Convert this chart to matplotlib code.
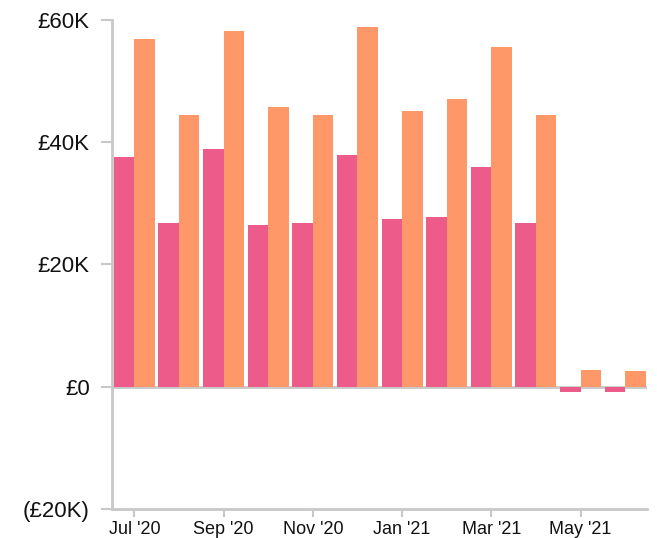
import numpy as np
import matplotlib
matplotlib.use("Agg")
import matplotlib.pyplot as plt
from matplotlib.ticker import FuncFormatter

plt.rcParams['font.family'] = ['Liberation Sans', 'DejaVu Sans']

# Data (values in £K)
MONTHS = ["Jul '20", "Aug '20", "Sep '20", "Oct '20", "Nov '20", "Dec '20",
          "Jan '21", "Feb '21", "Mar '21", "Apr '21", "May '21", "Jun '21"]
series_a = [37.5, 26.7, 38.9, 26.4, 26.7, 37.9, 27.4, 27.7, 35.9, 26.7, -0.8, -0.8]
series_b = [56.9, 44.4, 58.2, 45.7, 44.4, 58.9, 45.1, 47.0, 55.6, 44.4, 2.8, 2.5]
y_ticks = [-20, 0, 20, 40, 60]

PINK = "#EC5B89"
ORANGE = "#FF9869"
GREY = "#C8C8C8"


def money(v, pos=None):
    if v < 0:
        return f"(£{abs(v):.0f}K)"
    if v == 0:
        return "£0"
    return f"£{v:.0f}K"


fig = plt.figure(figsize=(6.57, 5.38), dpi=100)
ax = fig.add_axes([0.1705, 0.054, 0.815, 0.909])

x = np.arange(len(MONTHS))
w = 0.46
ax.axhline(0, color=GREY, linewidth=2, zorder=1)
ax.bar(x - w / 2, series_a, width=w, color=PINK, zorder=2)
ax.bar(x + w / 2, series_b, width=w, color=ORANGE, zorder=2)

ax.set_xlim(-0.5, len(MONTHS) - 0.5)
ax.set_ylim(-20, 60)
ax.set_yticks(y_ticks)
ax.yaxis.set_major_formatter(FuncFormatter(money))
ax.set_xticks(x[::2])
ax.set_xticklabels(MONTHS[::2])

for side in ("top", "right"):
    ax.spines[side].set_visible(False)
for side in ("left", "bottom"):
    ax.spines[side].set_color(GREY)
    ax.spines[side].set_linewidth(2)

ax.tick_params(axis="y", length=8, width=1.5, color=GREY, pad=8,
               labelsize=16, labelcolor="#111111")
ax.tick_params(axis="x", length=6, width=1.5, color=GREY, pad=3,
               labelsize=13, labelcolor="#111111")

fig.savefig("out.png", dpi=100, facecolor="white")
